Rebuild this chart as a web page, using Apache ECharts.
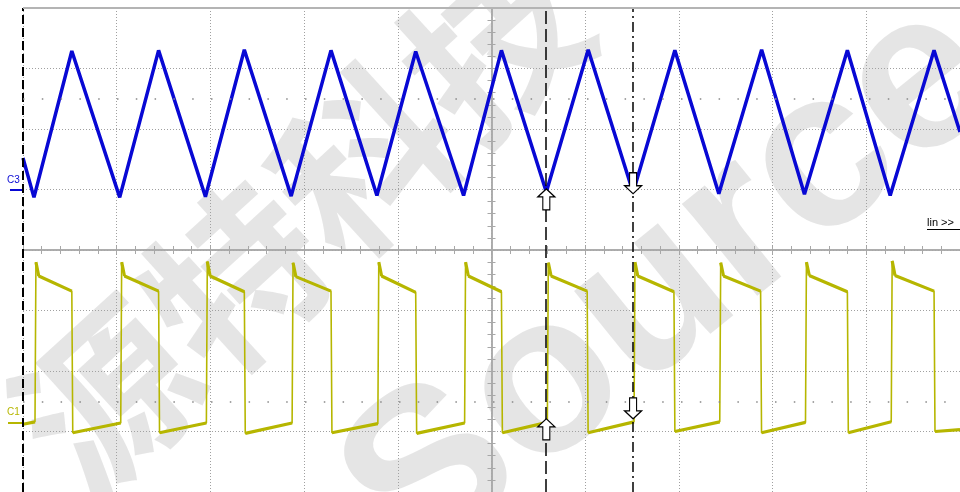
<!DOCTYPE html>
<html><head><meta charset="utf-8">
<script src="https://cdn.jsdelivr.net/npm/echarts@6/dist/echarts.min.js"></script>
<style>html,body{margin:0;padding:0;background:#fff}#c{width:960px;height:492px}</style>
</head><body><div id="c"></div>
<script>
// time in divisions (-5..5), amplitude in divisions (-4..4)
const c3Time = [-5.000,-4.883,-4.479,-3.968,-3.553,-3.053,-2.638,-2.138,-1.713,-1.223,-0.809,-0.298,0.106,0.585,1.032,1.511,1.957,2.426,2.883,3.340,3.798,4.255,4.723,5.000];
const c3Val  = [1.52,0.87,3.29,0.87,3.30,0.88,3.31,0.89,3.30,0.90,3.28,0.90,3.30,0.96,3.31,0.95,3.30,0.93,3.31,0.92,3.30,0.90,3.30,1.95];

const c1Time = [-5.000,
 -4.872,-4.862,-4.832,-4.479,-4.469,
 -3.957,-3.947,-3.917,-3.553,-3.543,
 -3.043,-3.033,-3.003,-2.638,-2.628,
 -2.128,-2.118,-2.088,-1.713,-1.703,
 -1.213,-1.203,-1.173,-0.809,-0.799,
 -0.287,-0.277,-0.247,0.106,0.116,
 0.596,0.606,0.636,1.021,1.031,
 1.521,1.531,1.561,1.947,1.957,
 2.436,2.446,2.476,2.872,2.882,
 3.351,3.361,3.391,3.798,3.808,
 4.266,4.276,4.306,4.723,4.733,
 5.000];
const c1Val = [-2.88,
 -2.84,-0.20,-0.43,-0.68,-3.02,
 -2.86,-0.20,-0.43,-0.68,-3.02,
 -2.86,-0.19,-0.43,-0.69,-3.03,
 -2.86,-0.21,-0.44,-0.68,-3.02,
 -2.87,-0.20,-0.43,-0.70,-3.03,
 -2.86,-0.20,-0.43,-0.69,-3.02,
 -2.85,-0.21,-0.43,-0.68,-3.02,
 -2.84,-0.20,-0.43,-0.69,-3.00,
 -2.84,-0.21,-0.43,-0.68,-3.02,
 -2.85,-0.20,-0.42,-0.69,-3.02,
 -2.84,-0.18,-0.42,-0.68,-3.00,
 -2.97];

const cursorTimes = [0.585, 1.511];
const c3AtCursor = [1.01, 0.93];
const c1AtCursor = [-2.79, -2.79];
const dotRows = [2.5, -2.5];

const blue = '#0808d4';
const olive = '#b6b600';
const axisGray = '#a8a8a8';
const gridGray = '#a0a0a0';
const wmFill = 'rgba(170,170,170,0.30)';

const upArrow = 'path://M8.5,0 L17,8 L12,8 L12,21 L5,21 L5,8 L0,8 Z';
const downArrow = 'path://M5,0 L12,0 L12,13 L17,13 L8.5,21 L0,13 L5,13 Z';

function zip(a, b) { return a.map((v, i) => [v, b[i]]); }

// thick (noisy) band on the flat parts of C1, thin on the edges
function flatParts(t, v) {
  const out = [];
  for (let i = 0; i < t.length - 1; i++) {
    if (t[i + 1] - t[i] > 0.025) { out.push([t[i], v[i]], [t[i + 1], v[i + 1]], '-'); }
  }
  return out;
}

const chart = echarts.init(document.getElementById('c'), null, {renderer: 'canvas'});

function xAx(pos, split) {
  return {
    type: 'value', min: -5, max: 5, interval: 1, position: pos,
    axisLine: {show: true, onZero: true, lineStyle: {color: axisGray, width: 1.5}},
    axisTick: {show: true, length: 4, lineStyle: {color: axisGray, width: 1}},
    minorTick: {show: true, splitNumber: 5, length: 4, lineStyle: {color: axisGray, width: 1}},
    axisLabel: {show: false},
    splitLine: {show: split, lineStyle: {type: [1, 2], color: gridGray, width: 1}}
  };
}
function yAx(pos, split) {
  return {
    type: 'value', min: -4, max: 4, interval: 1, position: pos,
    axisLine: {show: true, onZero: true, lineStyle: {color: axisGray, width: 1.5}},
    axisTick: {show: true, length: 4, lineStyle: {color: axisGray, width: 1}},
    minorTick: {show: true, splitNumber: 5, length: 4, lineStyle: {color: axisGray, width: 1}},
    axisLabel: {show: false},
    splitLine: {show: split, lineStyle: {type: [1, 2], color: gridGray, width: 1}}
  };
}

const markLines = [
  {xAxis: -5, lineStyle: {color: '#000', width: 2, type: [9, 4]}},
  {xAxis: cursorTimes[0], lineStyle: {color: '#000', width: 1.5, type: [13, 5]}},
  {xAxis: cursorTimes[1], lineStyle: {color: '#000', width: 1.5, type: [10, 4, 2, 4]}},
  {yAxis: 4, lineStyle: {color: '#b4b4b4', width: 2, type: 'solid'}}
].concat(dotRows.map(v => ({yAxis: v, lineStyle: {color: '#888', width: 1.5, type: [1.5, 17.3]}})));

function arrowPoints(vals) {
  return [
    {coord: [cursorTimes[0], vals[0]], symbol: upArrow, symbolSize: [17, 21], symbolOffset: [0, 10.5]},
    {coord: [cursorTimes[1], vals[1]], symbol: downArrow, symbolSize: [17, 21], symbolOffset: [0, -10.5]}
  ];
}

chart.setOption({
  animation: false,
  backgroundColor: '#fff',
  grid: {left: 23, top: 8, width: 940, height: 484, containLabel: false},
  xAxis: [xAx('bottom', true), xAx('top', false)],
  yAxis: [yAx('left', true), yAx('right', false)],
  graphic: [
    {type: 'text', x: 672, y: 285, rotation: 0.68, z: 1, silent: true,
     style: {text: 'Source', font: 'bold 225px "Liberation Sans", Arial, sans-serif', fill: wmFill, textAlign: 'center', textVerticalAlign: 'middle'}},
    {type: 'text', x: 300, y: 220, rotation: 0.74, z: 1, silent: true,
     style: {text: '源特科技', font: 'bold 175px "Noto Sans CJK SC", sans-serif', fill: wmFill, textAlign: 'center', textVerticalAlign: 'middle'}},
    {type: 'text', x: 7, y: 175, z: 10, style: {text: 'C3', font: '10px "Liberation Sans", Arial, sans-serif', fill: blue}},
    {type: 'rect', z: 10, shape: {x: 10, y: 189, width: 12, height: 2}, style: {fill: blue}},
    {type: 'text', x: 7, y: 407, z: 10, style: {text: 'C1', font: '10px "Liberation Sans", Arial, sans-serif', fill: olive}},
    {type: 'rect', z: 10, shape: {x: 8, y: 422, width: 14, height: 2}, style: {fill: olive}},
    {type: 'text', x: 927, y: 217, z: 10, style: {text: 'lin >>', font: '11px "Liberation Sans", Arial, sans-serif', fill: '#000'}},
    {type: 'line', z: 10, shape: {x1: 927, y1: 229.5, x2: 960, y2: 229.5}, style: {stroke: '#000', lineWidth: 1}}
  ],
  series: [
    {
      name: 'C1', type: 'line', data: zip(c1Time, c1Val), showSymbol: false, z: 3,
      lineStyle: {color: olive, width: 1.6}, itemStyle: {color: olive},
      markPoint: {silent: true, symbolKeepAspect: false, label: {show: false},
        itemStyle: {color: '#fff', borderColor: '#000', borderWidth: 1.2}, data: arrowPoints(c1AtCursor)}
    },
    {
      name: 'C1 band', type: 'line', data: flatParts(c1Time, c1Val), showSymbol: false, z: 3,
      connectNulls: false, silent: true,
      lineStyle: {color: olive, width: 3.2}, itemStyle: {color: olive}
    },
    {
      name: 'C3', type: 'line', data: zip(c3Time, c3Val), showSymbol: false, z: 4,
      lineStyle: {color: blue, width: 3.5}, itemStyle: {color: blue},
      markLine: {silent: true, symbol: 'none', label: {show: false}, animation: false, data: markLines},
      markPoint: {silent: true, symbolKeepAspect: false, label: {show: false},
        itemStyle: {color: '#fff', borderColor: '#000', borderWidth: 1.2}, data: arrowPoints(c3AtCursor)}
    }
  ]
});
</script>
</body></html>
